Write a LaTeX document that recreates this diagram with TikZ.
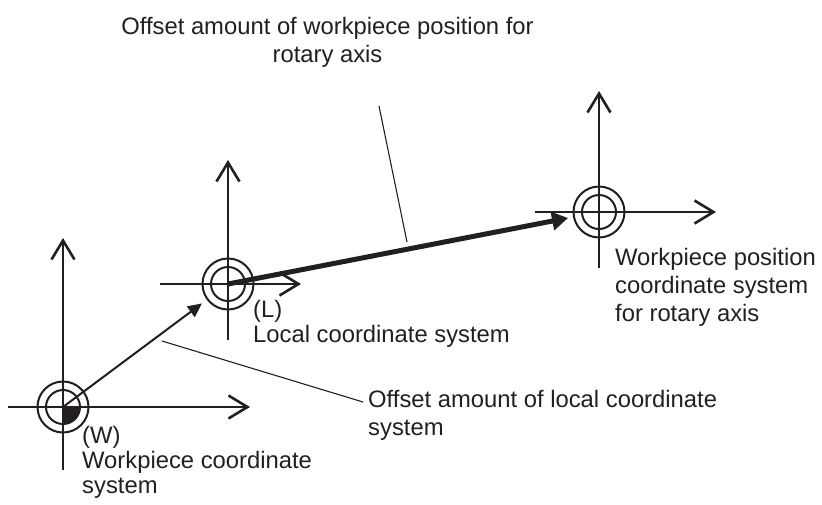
\documentclass[tikz,border=0pt]{standalone}
\usepackage{fontspec}
\setmainfont{Liberation Sans}
\usetikzlibrary{arrows.meta,calc}
\definecolor{ink}{HTML}{231F20}
\begin{document}
\begin{tikzpicture}[x=1pt,y=-1pt,
  axis/.style={draw=ink,line width=2.6pt,-{Straight Barb[length=19pt,width=23pt]}},
  ring/.style={circle,draw=ink,line width=2pt,inner sep=0pt},
  outerring/.style={ring,minimum size=51pt},
  innerring/.style={ring,minimum size=34pt},
  offsetarrow/.style={draw=ink,line width=2pt,-{Triangle[length=14pt,width=13pt]}},
  bigarrow/.style={draw=ink,line width=5pt,-{Triangle[length=16pt,width=18pt]}},
  leader/.style={draw=ink,line width=1.1pt},
  lbl/.style={text=ink,inner sep=0pt,font=\fontsize{23.8}{28}\selectfont},
  lbltight/.style={lbl,font=\fontsize{23.8}{25}\selectfont},
  lblwide/.style={lbl,font=\fontsize{23.8}{28.3}\selectfont}]
\useasboundingbox (0,0) rectangle (822,504);

% origins
\coordinate (Wc) at (63,407);
\coordinate (Lc) at (228,284);
\coordinate (Rc) at (599,212);

% axis end points
\coordinate (Wxs) at (8,407);   \coordinate (Wxe) at (250,407);
\coordinate (Wys) at (63,470);  \coordinate (Wye) at (63,238);
\coordinate (Lxs) at (160,284); \coordinate (Lxe) at (301,284);
\coordinate (Lys) at (228,340); \coordinate (Lye) at (228,160);
\coordinate (Rxs) at (535,212); \coordinate (Rxe) at (716,212);
\coordinate (Rys) at (599,268); \coordinate (Rye) at (599,91);

\draw[axis] (Wxs) -- (Wxe);
\draw[axis] (Wys) -- (Wye);
\draw[axis] (Lxs) -- (Lxe);
\draw[axis] (Lys) -- (Lye);
\draw[axis] (Rxs) -- (Rxe);
\draw[axis] (Rys) -- (Rye);

% rings
\node[outerring] (Wo) at (Wc) {};
\node[innerring] (Wi) at (Wc) {};
\node[outerring] (Lo) at (Lc) {};
\node[innerring] (Li) at (Lc) {};
\node[outerring] (Ro) at (Rc) {};
\node[innerring] (Ri) at (Rc) {};
\fill[ink] (Wc) -- ++(17,0) arc[start angle=0,end angle=90,radius=17] -- cycle;

% offset arrows
\draw[offsetarrow,shorten >=6pt] (Wc) -- (Lo);
\draw[bigarrow,shorten >=5pt] (Lc) -- (Ro);

% leaders
\coordinate (t1) at (379,106); \coordinate (t2) at (407,242);
\coordinate (s1) at (162,341); \coordinate (s2) at (363,402);
\draw[leader] (t1) -- (t2);
\draw[leader] (s1) -- (s2);

% labels (base anchor = baseline of the last line)
\node[lbl,anchor=base,align=center] (toplbl) at (327.5,62) {Offset amount of workpiece position for\\rotary axis};
\node[lbl,anchor=base west,align=left] (loclbl) at (368,435) {Offset amount of local coordinate\\system};
\node[lbltight,anchor=base west,align=left] (Llbl) at (253,342) {(L)\\Local coordinate system};
\node[lbltight,anchor=base west,align=left] (Wlbl) at (82,493) {(W)\\Workpiece coordinate\\system};
\node[lblwide,anchor=base west,align=left] (Rlbl) at (615,321.6) {Workpiece position\\coordinate system\\for rotary axis};
\end{tikzpicture}
\end{document}
